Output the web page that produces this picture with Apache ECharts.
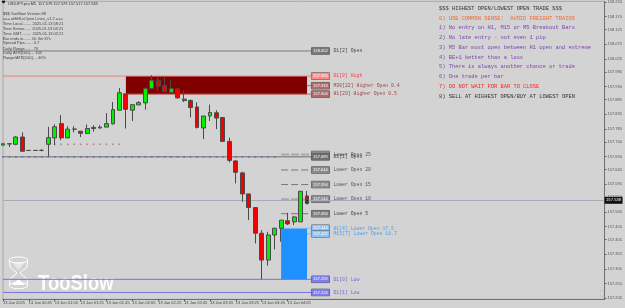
<!DOCTYPE html>
<html>
<head>
<meta charset="utf-8">
<style>html,body{margin:0;padding:0;background:#d3d3d3}#chart{width:625px;height:308px}</style>
<script src="https://cdn.jsdelivr.net/npm/echarts@6/dist/echarts.min.js"></script>
</head>
<body>
<div id="chart"></div>
<script>
// USDJPY M5 bars: [open, close, low, high]
const candles = [
  [157.729,157.734,157.729,157.734],[157.734,157.733,157.723,157.734],[157.732,157.757,157.729,157.760],
  [157.757,157.708,157.708,157.773],[157.711,157.711,157.709,157.712],[157.711,157.711,157.709,157.712],
  [157.711,157.711,157.708,157.716],[157.732,157.755,157.691,157.792],[157.754,157.792,157.729,157.801],
  [157.803,157.754,157.746,157.832],[157.754,157.784,157.753,157.794],[157.784,157.784,157.773,157.794],
  [157.777,157.770,157.757,157.777],[157.769,157.786,157.767,157.800],[157.786,157.790,157.775,157.797],
  [157.788,157.791,157.786,157.797],[157.791,157.803,157.790,157.839],[157.802,157.851,157.800,157.877],
  [157.849,157.909,157.849,157.925],[157.905,157.852,157.786,157.905],[157.849,157.868,157.812,157.868],
  [157.867,157.875,157.867,157.880],[157.874,157.923,157.851,157.927],[157.923,157.952,157.920,157.969],
  [157.952,157.931,157.915,157.963],[157.933,157.913,157.913,157.963],[157.910,157.923,157.910,157.952],
  [157.922,157.891,157.890,157.925],[157.882,157.887,157.877,157.917],[157.882,157.858,157.824,157.886],
  [157.860,157.790,157.786,157.876],[157.788,157.829,157.750,157.829],[157.829,157.841,157.812,157.868],
  [157.840,157.822,157.784,157.849],[157.824,157.742,157.742,157.824],[157.742,157.677,157.670,157.755],
  [157.675,157.636,157.598,157.677],[157.634,157.562,157.535,157.638],[157.562,157.515,157.472,157.562],
  [157.515,157.427,157.392,157.515],[157.427,157.335,157.269,157.438],[157.335,157.421,157.316,157.432],
  [157.421,157.444,157.372,157.446],[157.444,157.472,157.398,157.472],[157.470,157.459,157.455,157.497],
  [157.466,157.483,157.455,157.486],[157.466,157.571,157.466,157.571],[157.555,157.539,157.532,157.572]
];

const yTicks = [158.220,158.170,158.125,158.075,158.025,157.980,157.930,157.885,157.835,157.785,157.740,
  157.690,157.645,157.595,157.550,157.500,157.450,157.405,157.355,157.305,157.255,157.205];
const timeLabels = ['13 Jan 2025','13 Jan 00:45','13 Jan 01:05','13 Jan 01:25','13 Jan 01:45','13 Jan 02:05',
  '13 Jan 02:25','13 Jan 02:45','13 Jan 03:05','13 Jan 03:25','13 Jan 03:45','13 Jan 04:05'];

const currentPrice = 157.538;
const zoneHigh = [157.966, 157.904];
const zoneLow = [157.444, 157.269];
const blueDotPrice = 157.689;
const redDotPrice = 157.732;

// Price levels, first bar each one starts on, and its look
const levelNames = ['D1[2] Open','D1[0] High','M30[22] Higher Open 0.4','H1[29] Higher Open 0.5','Lower Open 25','D1[1] Open',
  'Lower Open 20','Lower Open 15','Lower Open 10','Lower Open 5','H1[4] Lower Open 17.5','M15[7] Lower Open 18.7','D1[0] Low','D1[1] Low'];
const levelPrices = [158.052,157.966,157.933,157.904,157.697,157.689,157.644,157.594,157.544,157.494,157.444,157.425,157.269,157.224];
const levelStart = [0,0,47,19,43,0,43,43,43,43,43,47,0,0];
const levelLine = ['#7c7c7c','#e58383','#b56a6a','#b56a6a','#aaaaaa','#8e8e8e','#777777','#777777','#aaaaaa','#777777','#7db8f5','#7db8f5','#7272e0','#7272e0'];
const levelBox = ['#777777','#ff8a8a','#b06a6a','#b06a6a','#8a8a8a','#6e6e6e','#8a8a8a','#8a8a8a','#8a8a8a','#808080','#8cc4fa','#8cc4fa','#7f7fec','#7f7fec'];
const levelText = ['#444444','#ff3c3c','#a04444','#a04444','#555555','#444444','#555555','#555555','#555555','#444444','#4d9df0','#4d9df0','#6a6ae0','#6a6ae0'];
const levelWidth = [1,1,1,1,2,1.5,1,1,2,1,1,1,1,1];
const levelDash = ['solid','solid','solid','solid',[8,2],'solid',[7,3],[7,3],[8,2],[7,3],'solid','solid','solid','solid'];

const infoLines = ['$$$ TooSlow Version 88','=== aHiHLoOpen Lines_v1.2 ===','Time Local........ 2025.01.13 08:21',
  'Time Server...... 2025.01.13 04:21','Time GMT......... 2025.01.13 02:21','Bar ends in....... 0h 3m 37s',
  'Spread Pips....... 0.7','Daily Range....... 70','Daily ATR[100].... 104','Range/ATR[100].... 40%'];
const infoRows = [14,19.3,24,29,33.7,38.7,43.3,48.7,53.3,58.3];

const ruleLines = ['$$$ HIGHEST OPEN/LOWEST OPEN TRADE $$$','0) USE COMMON SENSE!  AVOID FREIGHT TRAINS',
  '1) No entry on H1, M15 or M5 Breakout Bars','2) No late entry - not even 1 pip',
  '3) M5 Bar must open between H1 open and extreme','4) BE+1 better than a loss',
  '5) There is always another chance or trade','6) One trade per bar',
  '7) DO NOT WAIT FOR BAR TO CLOSE','8) SELL AT HIGHEST OPEN/BUY AT LOWEST OPEN'];
const ruleColors = ['#333333','#f0683c','#7b3fb5','#7b3fb5','#7b3fb5','#7b3fb5','#7b3fb5','#7b3fb5','#f52a2a','#333333'];
const ruleRows = [8.7,18.3,28,38,47.7,57.3,67,77,87,96.7];

const BAR_COUNT = 94;
const categories = [];
for (let i = 0; i < BAR_COUNT; i++) categories.push(String(i));
const indices = candles.map((_, i) => i);

const SANS = '"Liberation Sans"';
const MONO = '"Liberation Mono"';

// One line series per price level, with its value box and caption at the right end
const levelSeries = levelNames.map((name, k) => ({
  type: 'line',
  name,
  z: 3,
  silent: true,
  showSymbol: false,
  symbol: 'none',
  data: [[levelStart[k], levelPrices[k]], [48, levelPrices[k]]],
  lineStyle: { color: levelLine[k], width: levelWidth[k], type: levelDash[k] },
  endLabel: {
    show: true,
    distance: 0,
    offset: [-2, 0],
    formatter: () => `{box|${levelPrices[k].toFixed(3)}}{txt|${name}}`,
    rich: {
      box: { backgroundColor: levelBox[k], borderColor: '#555', borderWidth: 0.5, color: '#fff', width: 18, height: 6.5,
             align: 'center', fontSize: 4, fontFamily: SANS, lineHeight: 6.5 },
      txt: { color: levelText[k], fontFamily: MONO, fontSize: 4.8, padding: [0, 0, 0, 4] }
    }
  }
}));

const textBlock = (lines, rows, x, font, color) => lines.map((t, i) => ({
  type: 'text', x, y: rows[i], z: 20, silent: true,
  style: { text: t, font, fill: Array.isArray(color) ? color[i] : color, textVerticalAlign: 'middle' }
}));

// Hourglass logo and name, painted under the price lines
const logo = [
  { type: 'ellipse', z: 0, silent: true, shape: { cx: 18.5, cy: 260, rx: 9.2, ry: 3 }, style: { fill: 'none', stroke: '#fff', lineWidth: 1 } },
  { type: 'ellipse', z: 0, silent: true, shape: { cx: 18.5, cy: 285.5, rx: 9, ry: 3.2 }, style: { fill: 'none', stroke: '#fff', lineWidth: 1 } },
  { type: 'polyline', z: 0, silent: true, shape: { points: [[9.3,260],[10,267],[17,273],[10,279],[9.5,285.5]] }, style: { fill: 'none', stroke: '#fff', lineWidth: 1 } },
  { type: 'polyline', z: 0, silent: true, shape: { points: [[27.7,260],[27,267],[20,273],[27,279],[27.5,285.5]] }, style: { fill: 'none', stroke: '#fff', lineWidth: 1 } },
  { type: 'polygon', z: 0, silent: true, shape: { points: [[12,285],[25,285],[18.5,279]] }, style: { fill: '#fff' } },
  { type: 'polygon', z: 0, silent: true, shape: { points: [[12,262],[25,262],[18.5,270]] }, style: { fill: 'rgba(255,255,255,0.45)' } },
  { type: 'text', z: 0, silent: true, x: 38, y: 284, scaleY: 1.15, originY: 0,
    style: { text: 'TooSlow', font: 'bold 18.5px ' + SANS, fill: 'rgba(255,255,255,0.92)', textVerticalAlign: 'middle' } },
  { type: 'polygon', z: 20, silent: true, shape: { points: [[600.5,291],[603.5,291],[602.5,293.5],[603.5,296],[600.5,296],[601.5,293.5]] }, style: { fill: '#efefef', stroke: '#999', lineWidth: 0.4 } },
  { type: 'polyline', z: 20, silent: true, shape: { points: [[2,1.2],[5,1.2],[3.5,3.2],[2,1.2]] }, style: { fill: '#333' } }
];

const chart = echarts.init(document.getElementById('chart'));
chart.setOption({
  animation: false,
  backgroundColor: '#d3d3d3',
  grid: { left: 1.3, top: 1, width: 605.4, height: 298.3, show: true, borderColor: '#a8a8a8', borderWidth: 1 },
  xAxis: {
    type: 'category',
    data: categories,
    boundaryGap: false,
    axisLine: { lineStyle: { color: '#707070', width: 1 } },
    axisTick: { length: 2, lineStyle: { color: '#555' }, interval: i => i % 4 === 0 && i <= 44 },
    axisLabel: {
      fontSize: 4, fontFamily: SANS, color: '#444', margin: 1.5, align: 'left', hideOverlap: false,
      interval: i => i % 4 === 0 && i <= 44,
      formatter: (v, i) => timeLabels[i / 4] || ''
    },
    splitLine: { show: false }
  },
  yAxis: {
    type: 'value',
    position: 'right',
    min: 157.2005,
    max: 158.2222,
    scale: true,
    axisLine: { show: true, lineStyle: { color: '#707070', width: 1 } },
    axisTick: { show: true, length: 2, lineStyle: { color: '#666' }, customValues: yTicks },
    axisLabel: { fontSize: 4, fontFamily: SANS, color: '#555', margin: 3, customValues: yTicks, formatter: v => v.toFixed(3) },
    splitLine: { show: false }
  },
  series: [
    {
      type: 'line', name: 'zones', z: 2, silent: true, symbol: 'none', data: [],
      markArea: {
        silent: true,
        data: [
          [{ xAxis: '19', yAxis: zoneHigh[0], itemStyle: { color: '#800000', opacity: 1 } }, { xAxis: '47', yAxis: zoneHigh[1] }],
          [{ xAxis: '43', yAxis: zoneLow[0], itemStyle: { color: '#1e90ff', opacity: 1 } }, { xAxis: '47', yAxis: zoneLow[1] }]
        ]
      },
      markLine: {
        silent: true, symbol: 'none',
        lineStyle: { color: '#a3adb8', width: 1, type: 'solid' },
        label: {
          show: true, position: 'end', distance: 0, formatter: () => currentPrice.toFixed(3), color: '#fff',
          backgroundColor: '#111', fontSize: 4.2, fontFamily: SANS, padding: [1.5, 1.5], width: 15
        },
        data: [{ yAxis: currentPrice }]
      }
    },
    ...levelSeries,
    {
      type: 'candlestick', name: 'USDJPY.pro,M5', z: 6, silent: true, barWidth: 4.4, data: candles,
      itemStyle: { color: '#00f000', color0: '#f50000', borderColor: '#4a4a4a', borderColor0: '#4a4a4a', borderWidth: 1 }
    },
    {
      type: 'scatter', name: 'open markers', z: 4, silent: true, symbol: 'rect', symbolSize: 1.6,
      itemStyle: { color: '#5c5cc0' }, data: indices.slice(0, 43).map(i => [i, blueDotPrice])
    },
    {
      type: 'scatter', name: 'low markers', z: 4, silent: true, symbol: 'rect', symbolSize: 1.6,
      itemStyle: { color: '#b86a6a' }, data: indices.slice(8, 19).map(i => [i, redDotPrice])
    },
    {
      type: 'scatter', name: 'last bar', z: 7, silent: true, symbol: 'circle', symbolSize: 4.2,
      itemStyle: { color: '#1a1a1a' }, data: [[47, 157.533]]
    }
  ],
  graphic: { elements: [
    ...logo,
    { type: 'text', x: 8, y: 4.3, z: 20, silent: true,
      style: { text: 'USDJPY.pro,M5  157.579 157.579 157.517 157.538', font: '3.9px ' + SANS, fill: '#333', textVerticalAlign: 'middle' } },
    ...textBlock(infoLines, infoRows, 3, '4px ' + SANS, '#444'),
    ...textBlock(ruleLines, ruleRows, 439, '5.4px ' + MONO, ruleColors)
  ] }
});
</script>
</body>
</html>
